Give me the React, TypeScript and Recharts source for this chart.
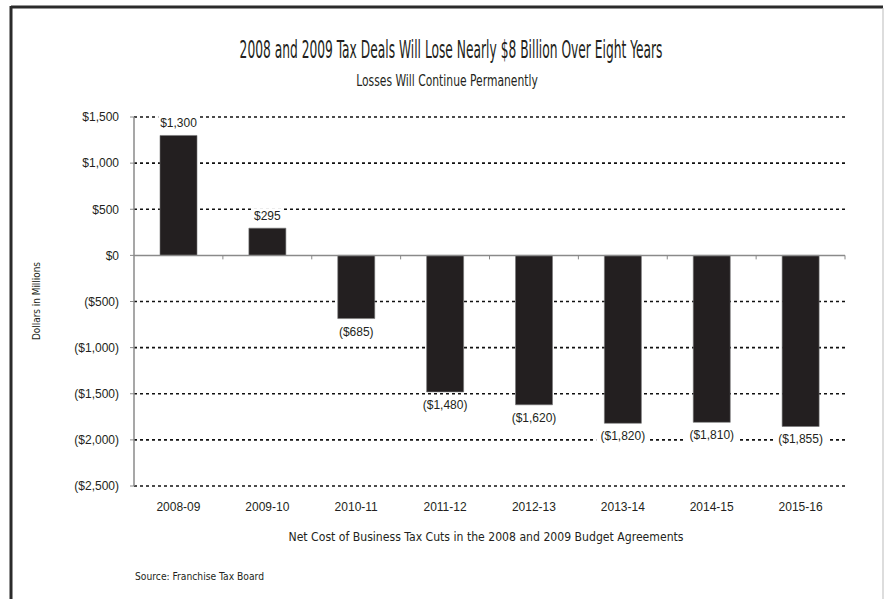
import React from 'react';
import {
  BarChart,
  Bar,
  XAxis,
  YAxis,
  CartesianGrid,
  ReferenceLine,
  LabelList
} from 'recharts';

// fiscal years and net cost in $ millions
const fiscalYears = ['2008-09', '2009-10', '2010-11', '2011-12', '2012-13', '2013-14', '2014-15', '2015-16'];
const netCost = [1300, 295, -685, -1480, -1620, -1820, -1810, -1855];
const yTicks = [1500, 1000, 500, 0, -500, -1000, -1500, -2000, -2500];

const TITLE = '2008 and 2009 Tax Deals Will Lose Nearly $8 Billion Over Eight Years';
const SUBTITLE = 'Losses Will Continue Permanently';
const X_TITLE = 'Net Cost of Business Tax Cuts in the 2008 and 2009 Budget Agreements';
const Y_TITLE = 'Dollars in Millions';
const SOURCE = 'Source: Franchise Tax Board';

const data = fiscalYears.map((year, i) => ({ year, cost: netCost[i] }));

const ink = '#231f20';
const font = '"Liberation Sans", Arial, sans-serif';
const narrow = '"Liberation Sans Narrow", "DejaVu Sans Condensed", "Liberation Sans", sans-serif';

const money = (v: number) => {
  if (v === 0) return '$0';
  const s = '$' + Math.abs(v).toLocaleString('en-US');
  return v < 0 ? `(${s})` : s;
};

const ValueLabel = (props: any) => {
  const { x, y, width, height, value } = props;
  const top = Math.min(y, y + height);
  const bottom = Math.max(y, y + height);
  const cx = x + width / 2;
  const text = money(value);
  const w = text.length * 6.4 + 2;
  const base = value >= 0 ? top - 8 : bottom + 17;
  return (
    <g>
      <rect x={cx - w / 2} y={base - 12} width={w} height={15} fill="#fff" />
      <text x={cx} y={base} textAnchor="middle" fontSize={12} fontFamily={font} fill={ink}>
        {text}
      </text>
    </g>
  );
};

// zero line with little ticks at the category boundaries
const ZeroLine = (props: any) => {
  const { x1, y1, x2, y2 } = props;
  const n = fiscalYears.length;
  const ticks = [];
  for (let i = 1; i <= n; i++) {
    const tx = x1 + ((x2 - x1) * i) / n;
    ticks.push(<line key={i} x1={tx} x2={tx} y1={y1} y2={y1 + 4} stroke="#888" strokeWidth={1} />);
  }
  return (
    <g>
      <line x1={x1} y1={y1} x2={x2} y2={y2} stroke="#8a8a8a" strokeWidth={1.5} />
      {ticks}
    </g>
  );
};

export default function App() {
  return (
    <div style={{ position: 'absolute', left: 0, top: 0, width: 884, height: 599, background: '#fff', overflow: 'hidden' }}>
      <BarChart
        width={884}
        height={599}
        data={data}
        margin={{ top: 117, right: 39, bottom: 73, left: 10 }}
        barSize={37}
      >
        <CartesianGrid
          vertical={false}
          horizontalValues={yTicks.filter(t => t !== 0)}
          stroke="#111"
          strokeWidth={1.6}
          strokeDasharray="3 3"
        />
        <XAxis
          dataKey="year"
          axisLine={false}
          tickLine={false}
          tickSize={0}
          tickMargin={16}
          height={40}
          tick={{ fontSize: 12, fontFamily: font, fill: ink }}
        />
        <YAxis
          width={124}
          domain={[-2500, 1500]}
          ticks={yTicks}
          tickFormatter={money}
          interval={0}
          axisLine={{ stroke: '#8a8a8a', strokeWidth: 1.5 }}
          tickLine={{ stroke: '#8a8a8a' }}
          tickSize={4}
          tickMargin={11}
          tick={{ fontSize: 12, fontFamily: font, fill: ink }}
        />
        <Bar dataKey="cost" fill={ink} stroke="#777" strokeWidth={0.6} isAnimationActive={false}>
          <LabelList dataKey="cost" content={ValueLabel} />
        </Bar>
        <ReferenceLine y={0} shape={ZeroLine} />
      </BarChart>
      <svg
        width={884}
        height={599}
        style={{ position: 'absolute', left: 0, top: 0, pointerEvents: 'none' }}
      >
        <line x1={11} y1={7} x2={883} y2={7} stroke="#2b2b2b" strokeWidth={3} />
        <line x1={11} y1={6} x2={11} y2={599} stroke="#2b2b2b" strokeWidth={3} />
        <line x1={883} y1={8} x2={883} y2={599} stroke="#bbb" strokeWidth={1} />
        {/* condensed title: scaled horizontally rather than squeezed glyph by glyph */}
        <text transform="translate(451 58) scale(0.7 1)" textAnchor="middle" fontSize={24}
          fontFamily={narrow} fill={ink} textLength={604} lengthAdjust="spacingAndGlyphs">
          {TITLE}
        </text>
        <text transform="translate(447 86) scale(0.8 1)" textAnchor="middle" fontSize={16}
          fontFamily={narrow} fill={ink} textLength={227} lengthAdjust="spacingAndGlyphs">
          {SUBTITLE}
        </text>
        <text x={486} y={541} textAnchor="middle" fontSize={12.5} fontFamily={narrow} fill={ink}
          textLength={395} lengthAdjust="spacingAndGlyphs">
          {X_TITLE}
        </text>
        <text x={135} y={580} fontSize={10} fontFamily={narrow} fill={ink}
          textLength={129} lengthAdjust="spacingAndGlyphs">
          {SOURCE}
        </text>
        <text x={40} y={301} textAnchor="middle" fontSize={11} fontFamily={narrow} fill={ink}
          transform="rotate(-90 40 301)" textLength={78} lengthAdjust="spacingAndGlyphs">
          {Y_TITLE}
        </text>
      </svg>
    </div>
  );
}
